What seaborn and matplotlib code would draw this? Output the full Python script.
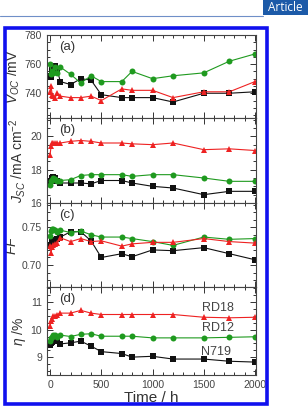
import matplotlib
matplotlib.use('Agg')
import matplotlib.pyplot as plt
from matplotlib.patches import Rectangle
from matplotlib.ticker import MultipleLocator
import numpy as np
import pandas as pd
import seaborn as sns

# sampling times (h)
TIME = [0, 10, 20, 30, 50, 70, 100, 200, 300, 400, 500, 700, 800, 1000, 1200, 1500, 1750, 2000]

DYES = ['N719', 'RD12', 'RD18']

VOC = {
    'N719': [752, 751, 756, 759, 759, 756, 748, 746, 750, 749, 739, 737, 737, 737, 734, 740, 740, 741],
    'RD12': [760, 753, 755, 754, 758, 754, 758, 753, 747, 752, 748, 748, 755, 750, 752, 754, 762, 767],
    'RD18': [741, 745, 739, 738, 737, 740, 738, 737, 737, 738, 735, 743, 742, 742, 737, 741, 741, 748],
}
JSC = {
    'N719': [17.2, 17.3, 17.5, 17.55, 17.5, 17.3, 17.2, 17.2, 17.2, 17.15, 17.35, 17.35, 17.2, 17.0, 16.9, 16.5, 16.7, 16.7],
    'RD12': [17.1, 17.3, 17.4, 17.5, 17.45, 17.3, 17.35, 17.4, 17.65, 17.7, 17.7, 17.7, 17.6, 17.7, 17.7, 17.5, 17.3, 17.3],
    'RD18': [18.9, 19.4, 19.6, 19.6, 19.6, 19.6, 19.6, 19.7, 19.75, 19.7, 19.6, 19.6, 19.55, 19.5, 19.6, 19.2, 19.25, 19.15],
}
FF = {
    'N719': [0.726, 0.727, 0.731, 0.732, 0.733, 0.734, 0.737, 0.744, 0.744, 0.732, 0.710, 0.715, 0.711, 0.720, 0.719, 0.723, 0.715, 0.707],
    'RD12': [0.738, 0.745, 0.748, 0.747, 0.746, 0.744, 0.746, 0.743, 0.745, 0.740, 0.737, 0.737, 0.735, 0.731, 0.726, 0.737, 0.734, 0.735],
    'RD18': [0.725, 0.716, 0.724, 0.726, 0.728, 0.729, 0.736, 0.731, 0.735, 0.731, 0.732, 0.725, 0.728, 0.730, 0.730, 0.735, 0.731, 0.729],
}
ETA = {
    'N719': [9.45, 9.5, 9.55, 9.6, 9.65, 9.6, 9.48, 9.52, 9.58, 9.4, 9.2, 9.13, 9.0, 9.03, 8.93, 8.93, 8.85, 8.82],
    'RD12': [9.6, 9.7, 9.75, 9.8, 9.8, 9.75, 9.8, 9.75, 9.83, 9.85, 9.76, 9.76, 9.76, 9.7, 9.7, 9.7, 9.72, 9.74],
    'RD18': [10.15, 10.3, 10.4, 10.5, 10.5, 10.55, 10.6, 10.6, 10.7, 10.6, 10.55, 10.55, 10.55, 10.55, 10.55, 10.45, 10.43, 10.45],
}

COLORS = {'N719': '#111111', 'RD12': '#1f9a1f', 'RD18': '#ee2222'}
MARKERS = {'N719': 's', 'RD12': 'o', 'RD18': '^'}

sns.set_style('ticks')
plt.rcParams['font.family'] = ['Liberation Sans', 'DejaVu Sans']
plt.rcParams['mathtext.fontset'] = 'custom'
plt.rcParams['mathtext.rm'] = 'Liberation Sans'
plt.rcParams['mathtext.it'] = 'Liberation Sans:italic'

W, H = 308, 407
fig = plt.figure(figsize=(W / 100, H / 100), dpi=100)
fig.patch.set_facecolor('white')

# journal header decoration
fig.add_artist(Rectangle((263 / W, 1 - 15 / H), 45 / W, 15 / H, transform=fig.transFigure,
                         facecolor='#1c5aa8', edgecolor='none'))
fig.text(285 / W, 1 - 7.5 / H, 'Article', color='white', fontsize=8.5,
         ha='center', va='center', family=['Open Sans', 'DejaVu Sans'])
fig.add_artist(plt.Line2D([0, 263 / W], [1 - 15.5 / H] * 2, transform=fig.transFigure,
                          color='#6f8fc8', lw=0.8))
# blue frame around figure
fig.add_artist(Rectangle((5 / W, 1 - 404 / H), 262 / W, 376 / H, transform=fig.transFigure,
                         facecolor='none', edgecolor='#1010ee', lw=2.6))

panels = [
    (VOC, (35, 118), (723, 780), 20, 5, r'$V_{OC}$ /mV', '(a)', '%d'),
    (JSC, (118, 203), (16, 21.1), 2, 0.5, r'$J_{SC}$ /mA cm$^{-2}$', '(b)', '%d'),
    (FF, (203, 287), (0.671, 0.782), 0.05, 0.01, r'$FF$', '(c)', '%.2f'),
    (ETA, (287, 375), (8.35, 11.55), 1, 0.25, r'$\eta$ /%', '(d)', '%d'),
]

left, right = 47, 256
axes = []
for data, (top, bot), ylim, major, minor, ylabel, tag, fmt in panels:
    ax = fig.add_axes([left / W, 1 - bot / H, (right - left) / W, (bot - top) / H])
    rows = []
    for dye in DYES:
        for t, v in zip(TIME, data[dye]):
            rows.append({'time': t, 'value': v, 'dye': dye})
    df = pd.DataFrame(rows)
    sns.lineplot(data=df, x='time', y='value', hue='dye', style='dye',
                 palette=COLORS, markers=MARKERS, dashes=False, ax=ax,
                 legend=False, lw=0.8, markersize=4.3, markeredgewidth=0)
    ax.set_xlim(-30, 2010)
    ax.set_ylim(*ylim)
    ax.xaxis.set_major_locator(MultipleLocator(500))
    ax.xaxis.set_minor_locator(MultipleLocator(100))
    ax.yaxis.set_major_locator(MultipleLocator(major))
    ax.yaxis.set_minor_locator(MultipleLocator(minor))
    ax.yaxis.set_major_formatter(matplotlib.ticker.FormatStrFormatter(fmt))
    ax.tick_params(which='both', direction='in', top=True, right=True,
                   labelsize=7.5, colors='#333333', labelcolor='#444444', width=0.7)
    ax.tick_params(which='major', length=4)
    ax.tick_params(which='minor', length=2)
    for s in ax.spines.values():
        s.set_linewidth(0.8)
        s.set_color('#444444')
    ax.set_ylabel(ylabel, fontsize=10, color='#333333', labelpad=2)
    ax.set_xlabel('')
    ax.text(0.06, 0.93, tag, transform=ax.transAxes, fontsize=9.5,
            color='#333333', va='top')
    axes.append(ax)

for ax in axes[:-1]:
    ax.tick_params(labelbottom=False)
axes[-1].set_xlabel('Time / h', fontsize=11, color='#333333', labelpad=1)

ax = axes[-1]
for dye, (x, y) in zip(DYES, [(1620, 9.2), (1640, 10.05), (1640, 10.78)]):
    ax.text(x, y, dye, fontsize=9, color='#444444', ha='center', va='center')

fig.savefig('out.png', dpi=100)
